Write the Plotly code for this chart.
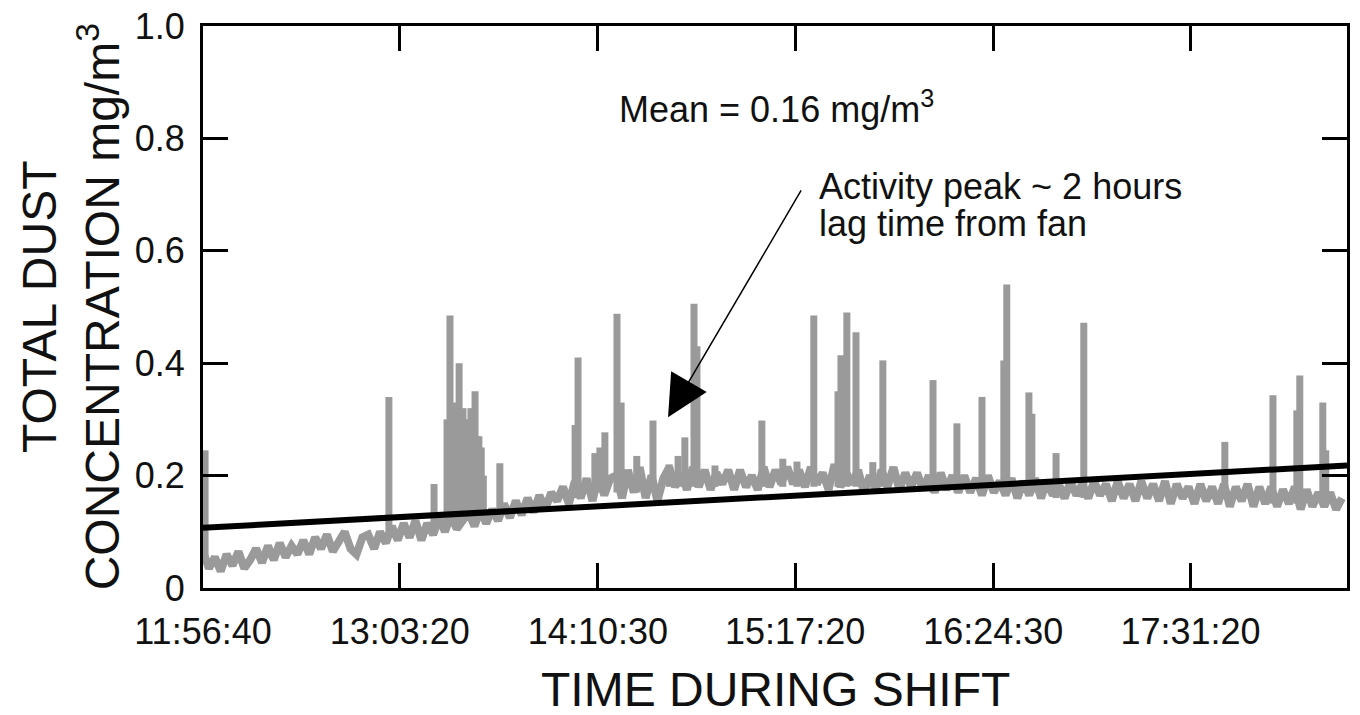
import plotly.graph_objects as go

# ---- data (minutes after 11:56:40) ----
start_label = "11:56:40"
tick_labels = ["11:56:40", "13:03:20", "14:10:30", "15:17:20", "16:24:30", "17:31:20"]
y_tick_vals = [0, 0.2, 0.4, 0.6, 0.8, 1.0]
y_tick_text = ["0", "0.2", "0.4", "0.6", "0.8", "1.0"]

sample_step_min = 2
base_conc = [
    0.065, 0.035, 0.055, 0.03, 0.06, 0.04, 0.065, 0.035, 0.05, 0.07,
    0.045, 0.075, 0.05, 0.08, 0.055, 0.075, 0.06, 0.085, 0.06, 0.09,
    0.07, 0.095, 0.065, 0.085, 0.1, 0.07, 0.06, 0.09, 0.095, 0.07,
    0.1, 0.08, 0.11, 0.085, 0.115, 0.09, 0.12, 0.085, 0.115, 0.095,
    0.125, 0.1, 0.13, 0.105, 0.12, 0.135, 0.11, 0.14, 0.115, 0.14,
    0.12, 0.15, 0.125, 0.155, 0.13, 0.16, 0.135, 0.165, 0.14, 0.17,
    0.155, 0.18, 0.15, 0.19, 0.16, 0.195, 0.155, 0.2, 0.165, 0.195,
    0.2, 0.16, 0.21, 0.17, 0.215, 0.16, 0.2, 0.155, 0.195, 0.215,
    0.18, 0.205, 0.175, 0.215, 0.18, 0.21, 0.175, 0.205, 0.185, 0.21,
    0.175, 0.21, 0.18, 0.2, 0.175, 0.215, 0.18, 0.21, 0.185, 0.215,
    0.185, 0.21, 0.18, 0.215, 0.185, 0.205, 0.175, 0.22, 0.18, 0.205,
    0.185, 0.21, 0.17, 0.2, 0.175, 0.21, 0.18, 0.215, 0.175, 0.205,
    0.18, 0.205, 0.175, 0.2, 0.17, 0.205, 0.175, 0.2, 0.17, 0.2,
    0.17, 0.195, 0.165, 0.2, 0.17, 0.19, 0.165, 0.195, 0.16, 0.19,
    0.165, 0.195, 0.16, 0.19, 0.165, 0.185, 0.16, 0.19, 0.165, 0.185,
    0.16, 0.19, 0.165, 0.185, 0.155, 0.19, 0.16, 0.185, 0.155, 0.19,
    0.16, 0.185, 0.155, 0.19, 0.15, 0.185, 0.16, 0.18, 0.15, 0.185,
    0.155, 0.18, 0.15, 0.185, 0.145, 0.18, 0.155, 0.185, 0.145, 0.18,
    0.15, 0.18, 0.145, 0.175, 0.15, 0.18, 0.14, 0.175, 0.145, 0.17,
    0.145, 0.17, 0.14, 0.16,
]

spike_time = [0.7, 63.0, 78.3,
              82.7, 83.7, 84.6, 85.4, 86.2, 86.8, 87.5, 88.1, 88.8, 89.5, 90.2,
              90.8, 91.5, 92.2, 92.9, 93.5, 94.3, 95.0,
              100.6, 126.1, 127.1, 132.8, 134.5, 136.2, 140.3, 141.7, 147.0,
              152.5, 158.0, 161.0, 163.3, 166.4, 167.4, 173.5, 189.4, 196.5,
              201.3, 207.0, 215.2, 216.2, 218.2, 221.3, 227.0, 230.4, 247.4,
              255.5, 264.0, 271.4, 272.4, 279.9, 280.9, 289.1, 298.5, 346.3,
              362.6, 370.7, 371.7, 379.5, 380.5]
spike_peak = [0.245, 0.34, 0.185,
              0.30, 0.485, 0.33, 0.30, 0.32, 0.40, 0.30, 0.32, 0.30, 0.30, 0.28,
              0.32, 0.30, 0.35, 0.27, 0.27, 0.25, 0.20,
              0.222, 0.29, 0.41, 0.24, 0.25, 0.277, 0.488, 0.33, 0.235,
              0.298, 0.22, 0.235, 0.268, 0.506, 0.43, 0.218, 0.298, 0.23,
              0.225, 0.485, 0.35, 0.414, 0.49, 0.455, 0.224, 0.405, 0.37,
              0.293, 0.34, 0.405, 0.54, 0.348, 0.31, 0.24, 0.472, 0.26,
              0.343, 0.316, 0.378, 0.33, 0.245]
spike_base = [0.05, 0.09, 0.10,
              0.11, 0.11, 0.11, 0.12, 0.12, 0.12, 0.12, 0.12, 0.12, 0.12, 0.12,
              0.12, 0.12, 0.12, 0.12, 0.12, 0.12, 0.12,
              0.13, 0.16, 0.16, 0.17, 0.17, 0.17, 0.17, 0.17, 0.17,
              0.18, 0.18, 0.18, 0.18, 0.18, 0.18, 0.18, 0.18, 0.18,
              0.18, 0.18, 0.18, 0.18, 0.18, 0.18, 0.18, 0.18, 0.17,
              0.17, 0.17, 0.17, 0.17, 0.17, 0.17, 0.16, 0.16, 0.16,
              0.15, 0.15, 0.15, 0.15, 0.15]

trend_time = [0, 387.7]
trend_conc = [0.107, 0.218]
x_end_min = 387.7


def to_min(label):
    h, m, s = (int(v) for v in label.split(":"))
    h0, m0, s0 = (int(v) for v in start_label.split(":"))
    return ((h - h0) * 3600 + (m - m0) * 60 + (s - s0)) / 60.0


tick_vals = [to_min(t) for t in tick_labels]

GRAY = "#9a9a9a"

spike_x, spike_y = [], []
for t, b, p in zip(spike_time, spike_base, spike_peak):
    spike_x += [t, t, None]
    spike_y += [b, p, None]

fig = go.Figure()
fig.add_trace(go.Scatter(x0=0, dx=sample_step_min, y=base_conc, mode="lines",
                         line=dict(color=GRAY, width=8), showlegend=False,
                         hoverinfo="skip"))
fig.add_trace(go.Scatter(x=spike_x, y=spike_y, mode="lines",
                         line=dict(color=GRAY, width=7), showlegend=False,
                         hoverinfo="skip"))
fig.add_trace(go.Scatter(x=trend_time, y=trend_conc, mode="lines",
                         line=dict(color="black", width=6), showlegend=False))

FONT = "Liberation Sans, Arial, sans-serif"

fig.update_layout(
    width=1352, height=707,
    margin=dict(l=195, r=13, t=18, b=127),
    paper_bgcolor="white", plot_bgcolor="white",
    font=dict(family=FONT, color="#111111"),
    xaxis=dict(range=[0, x_end_min], tickvals=tick_vals, ticktext=tick_labels,
               ticks="inside", ticklen=25, tickwidth=3, tickcolor="black",
               showline=True, linewidth=3, linecolor="black", mirror="ticks",
               showgrid=False, zeroline=False, tickfont=dict(size=36, family=FONT),
               ticklabelstandoff=10, ticklabeloverflow="allow", automargin=False),
    yaxis=dict(range=[0, 1.0], tickvals=y_tick_vals, ticktext=y_tick_text,
               ticks="inside", ticklen=25, tickwidth=3, tickcolor="black",
               showline=True, linewidth=3, linecolor="black", mirror="ticks",
               showgrid=False, zeroline=False, tickfont=dict(size=36, family=FONT),
               ticklabelstandoff=8, ticklabeloverflow="allow", automargin=False),
    annotations=[
        dict(text="TIME DURING SHIFT", xref="paper", yref="paper", x=0.5, y=-0.18,
             showarrow=False, xanchor="center", yanchor="middle",
             font=dict(size=48, family=FONT)),
        dict(text="TOTAL DUST<br>CONCENTRATION mg/m<sup>3</sup>", xref="paper", yref="paper",
             x=-0.116, y=0.5, textangle=-90, showarrow=False, xanchor="center",
             yanchor="middle", font=dict(size=48, family=FONT), align="center"),
        dict(text="Mean = 0.16 mg/m<sup>3</sup>", x=140.3, y=0.855, xref="x", yref="y",
             showarrow=False, xanchor="left", yanchor="middle",
             font=dict(size=36, family=FONT)),
        dict(text="Activity peak ~ 2 hours", x=208.1, y=0.715,
             xref="x", yref="y", showarrow=False, xanchor="left", yanchor="middle",
             align="left", font=dict(size=36, family=FONT)),
        dict(text="lag time from fan", x=208.1, y=0.648,
             xref="x", yref="y", showarrow=False, xanchor="left", yanchor="middle",
             align="left", font=dict(size=36, family=FONT)),
        dict(text="", x=157.6, y=0.304, ax=203.0, ay=0.71, xref="x", yref="y",
             axref="x", ayref="y", showarrow=True, arrowhead=2, arrowsize=5.5,
             arrowwidth=1.5, arrowcolor="black", standoff=0),
    ],
)

fig.write_html("out.html")
